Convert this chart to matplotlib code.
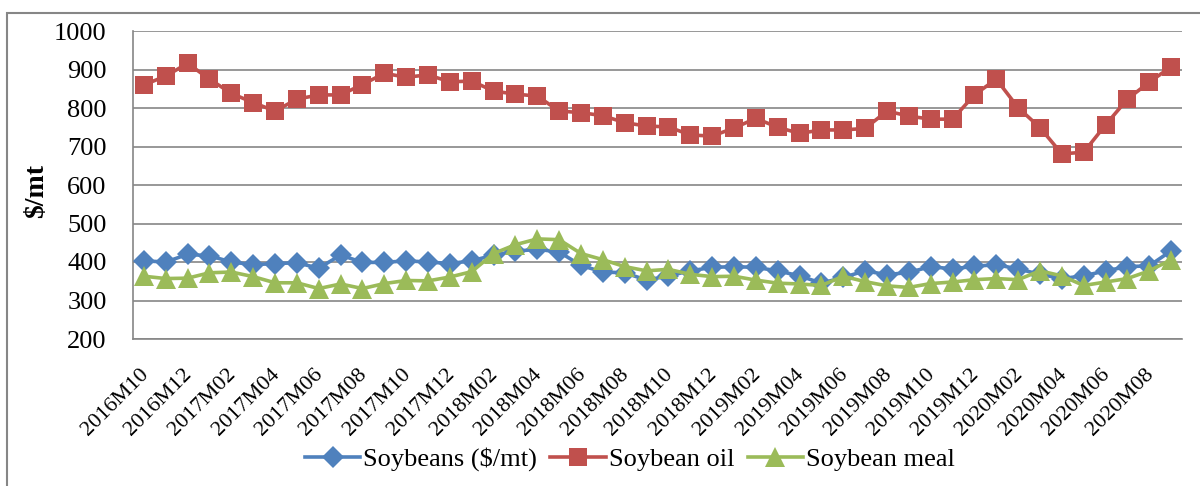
import matplotlib.pyplot as plt
import matplotlib.transforms as mtransforms
from matplotlib.patches import Rectangle

months = ['2016M10', '2016M11', '2016M12', '2017M01', '2017M02', '2017M03',
          '2017M04', '2017M05', '2017M06', '2017M07', '2017M08', '2017M09',
          '2017M10', '2017M11', '2017M12', '2018M01', '2018M02', '2018M03',
          '2018M04', '2018M05', '2018M06', '2018M07', '2018M08', '2018M09',
          '2018M10', '2018M11', '2018M12', '2019M01', '2019M02', '2019M03',
          '2019M04', '2019M05', '2019M06', '2019M07', '2019M08', '2019M09',
          '2019M10', '2019M11', '2019M12', '2020M01', '2020M02', '2020M03',
          '2020M04', '2020M05', '2020M06', '2020M07', '2020M08', '2020M09']

soybeans = [403, 400, 420, 416, 400, 393, 396, 398, 384, 418, 399, 399,
            403, 400, 396, 403, 418, 428, 433, 426, 391, 374, 372, 353,
            364, 377, 386, 388, 386, 377, 364, 345, 360, 377, 367, 373,
            388, 382, 389, 393, 382, 368, 357, 364, 377, 388, 390, 429]

soy_oil = [860, 883, 916, 875, 838, 814, 792, 823, 834, 834, 861, 890,
           880, 886, 868, 870, 844, 836, 831, 792, 788, 780, 762, 753,
           751, 730, 727, 748, 773, 750, 734, 743, 743, 747, 792, 779,
           771, 771, 834, 875, 801, 749, 681, 685, 756, 823, 867, 907]

soy_meal = [363, 357, 358, 372, 374, 362, 346, 346, 331, 343, 331, 344,
            352, 351, 361, 375, 422, 445, 460, 458, 422, 406, 388, 377,
            381, 368, 362, 363, 353, 345, 343, 339, 363, 349, 338, 334,
            344, 348, 354, 357, 354, 377, 364, 339, 348, 357, 377, 406]

series = [('Soybeans ($/mt)', soybeans, '#4F81BD', 'D', 11),
          ('Soybean oil', soy_oil, '#C0504D', 's', 13.5),
          ('Soybean meal', soy_meal, '#9BBB59', '^', 14)]

plt.rcParams['font.family'] = ['Liberation Serif', 'DejaVu Serif']

fig = plt.figure(figsize=(12, 4.86), dpi=100)
ax = fig.add_axes([133 / 1200, 1 - 339 / 486, 1049 / 1200, 308 / 486])

x = list(range(len(months)))
for name, vals, col, mk, ms in series:
    ax.plot(x, vals, color=col, lw=2.6, marker=mk, markersize=ms,
            markeredgewidth=0, label=name, zorder=3)

ax.set_xlim(-0.5, len(months) - 0.5)
ax.set_ylim(200, 1000)
ax.set_yticks(range(200, 1001, 100))
ax.grid(axis='y', color='#868686', lw=1.2, zorder=0)
ax.set_axisbelow(True)
for s in ['top', 'right']:
    ax.spines[s].set_visible(False)
for s in ['left', 'bottom']:
    ax.spines[s].set_color('#868686')
    ax.spines[s].set_linewidth(1.2)

ax.tick_params(axis='y', length=0, pad=19, labelsize=19)
ax.tick_params(axis='x', length=0, pad=19, labelsize=16)
ax.set_xticks(x[::2])
ax.set_xticklabels(months[::2], rotation=45, ha='right', va='top',
                   rotation_mode='anchor')
offset = mtransforms.ScaledTranslation(-0.05, 0, fig.dpi_scale_trans)
for lab in ax.get_xticklabels():
    lab.set_transform(lab.get_transform() + offset)

ax.set_ylabel('$/mt', fontsize=20, fontweight='bold', va='center')
ax.yaxis.set_label_coords(-0.0915, 0.48)

fig.legend(loc='center', bbox_to_anchor=(630 / 1200, 0.055), ncol=3,
           frameon=False, fontsize=19, handlelength=2.1, handletextpad=0.12,
           columnspacing=0.5)

fig.patches.append(Rectangle((7 / 1200, -0.2), 1.2, 1.2 - 13 / 486,
                             transform=fig.transFigure, fill=False,
                             edgecolor='#868686', lw=1.5))

fig.savefig('out.png', dpi=100)
